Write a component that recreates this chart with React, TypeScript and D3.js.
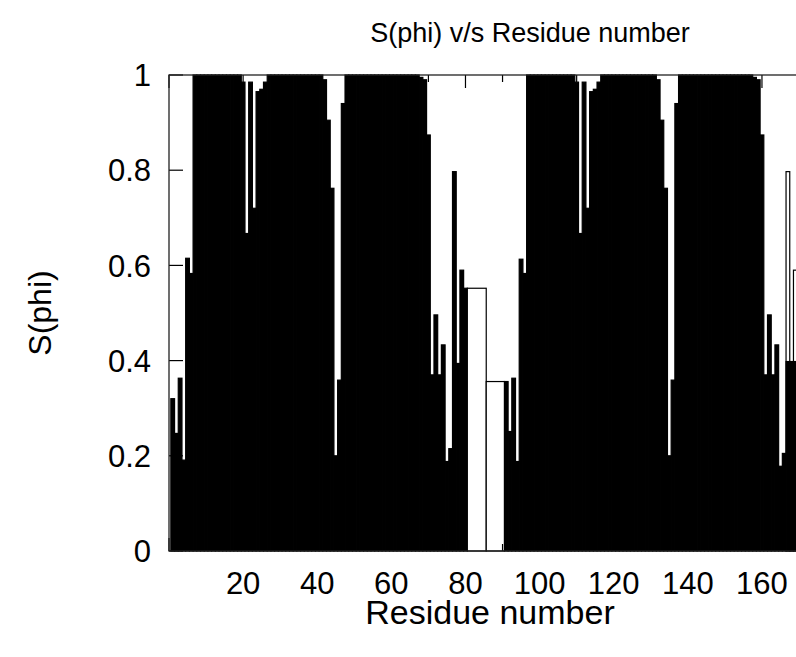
import React from "react";
import * as d3 from "d3";

// Chain A: residues 1..80
const chainAStart = 1;
const chainAValues = [
  0.32, 0.247, 0.363, 0.191, 0.615, 0.583,
  1, 1, 1, 1, 1, 1, 1, 1, 1, 1, 1, 1, 1,
  0.985, 0.667, 0.985, 0.72, 0.965, 0.97, 0.985,
  1, 1, 1, 1, 1, 1, 1, 1, 1, 1, 1, 1, 1, 1, 1,
  0.99, 0.905, 0.762, 0.2, 0.359, 0.94,
  1, 1, 1, 1, 1, 1, 1, 1, 1, 1, 1, 1, 1, 1, 1, 1, 1, 1, 1, 1,
  0.995, 0.99, 0.874, 0.37, 0.496, 0.37, 0.433, 0.188, 0.215, 0.797, 0.394, 0.59, 0.552,
];

// Chain B: residues 91..166
const chainBStart = 91;
const chainBValues = [
  0.356, 0.251, 0.363, 0.188, 0.613, 0.583,
  1, 1, 1, 1, 1, 1, 1, 1, 1, 1, 1, 1, 1,
  0.985, 0.667, 0.985, 0.72, 0.965, 0.97, 0.985,
  1, 1, 1, 1, 1, 1, 1, 1, 1, 1, 1, 1, 1, 1, 1,
  0.99, 0.905, 0.762, 0.2, 0.359, 0.94,
  1, 1, 1, 1, 1, 1, 1, 1, 1, 1, 1, 1, 1, 1, 1, 1, 1, 1, 1, 1,
  0.995, 0.99, 0.874, 0.37, 0.496, 0.37, 0.433, 0.178, 0.205,
];

// Last visible residues (drawn as open boxes above a filled base)
const endResidues = [167, 168, 169];
const endOpenValues = [0.797, 0.394, 0.59];
const endBaseValues = [0.398, 0.398, 0.398];

// Wide open boxes in the gap between chains
const gapStarts = [80.5, 85.6];
const gapEnds = [85.6, 90.5];
const gapValues = [0.552, 0.356];

const xMajorTicks = [20, 40, 60, 80, 100, 120, 140, 160];
const xAllMajor = [0, 20, 40, 60, 80, 100, 120, 140, 160, 180];
const xMinorTicks = [10, 30, 50, 70, 90, 110, 130, 150, 170];
const yTicks = [0, 0.2, 0.4, 0.6, 0.8, 1];
const yTickLabels = ["0", "0.2", "0.4", "0.6", "0.8", "1"];

const W = 796;
const H = 657;
const left = 169;
const top = 75;
const bottom = 551;
const xMax = 180;
const pxPerUnit = 3.706;
const right = left + pxPerUnit * xMax;

const FONT = "'Liberation Sans', Arial, Helvetica, sans-serif";

export default function App() {
  const x = d3.scaleLinear().domain([0, xMax]).range([left, right]);
  const y = d3.scaleLinear().domain([0, 1]).range([bottom, top]);

  const bars = [
    ...chainAValues.map((v, i) => ({ r: chainAStart + i, v })),
    ...chainBValues.map((v, i) => ({ r: chainBStart + i, v })),
  ];

  const sw = 1.2;

  return (
    <div style={{ position: "absolute", left: 0, top: 0 }}>
      <svg width={W} height={H} style={{ display: "block", background: "#fff" }}>
        <defs>
          <clipPath id="plotclip">
            <rect x={left} y={top - 2} width={right - left} height={bottom - top + 4} />
          </clipPath>
        </defs>
        <rect x={0} y={0} width={W} height={H} fill="#fff" />
        <g clipPath="url(#plotclip)">
          {bars.map((b) => (
            <rect
              key={"b" + b.r}
              x={x(b.r - 0.5)}
              y={y(b.v)}
              width={x(b.r + 0.5) - x(b.r - 0.5)}
              height={y(0) - y(b.v)}
              fill="#000"
              stroke="#000"
              strokeWidth={sw}
            />
          ))}
          {gapValues.map((v, i) => (
            <rect
              key={"g" + i}
              x={x(gapStarts[i])}
              y={y(v)}
              width={x(gapEnds[i]) - x(gapStarts[i])}
              height={y(0) - y(v)}
              fill="#fff"
              stroke="#000"
              strokeWidth={sw}
            />
          ))}
          {endResidues.map((r, i) => (
            <rect
              key={"eo" + r}
              x={x(r - 0.5)}
              y={y(endOpenValues[i])}
              width={x(r + 0.5) - x(r - 0.5)}
              height={y(0) - y(endOpenValues[i])}
              fill="#fff"
              stroke="#000"
              strokeWidth={sw}
            />
          ))}
          {endResidues.map((r, i) => (
            <rect
              key={"eb" + r}
              x={x(r - 0.5)}
              y={y(endBaseValues[i])}
              width={x(r + 0.5) - x(r - 0.5)}
              height={y(0) - y(endBaseValues[i])}
              fill="#000"
              stroke="#000"
              strokeWidth={sw}
            />
          ))}
        </g>

        {/* ticks */}
        <g stroke="#000" strokeWidth={1.2}>
          {xAllMajor.map((t) => (
            <g key={"xt" + t}>
              <line x1={x(t)} x2={x(t)} y1={bottom} y2={bottom - 13} />
              <line x1={x(t)} x2={x(t)} y1={top} y2={top + 13} />
            </g>
          ))}
          {xMinorTicks.map((t) => (
            <g key={"xm" + t}>
              <line x1={x(t)} x2={x(t)} y1={bottom} y2={bottom - 7} />
              <line x1={x(t)} x2={x(t)} y1={top} y2={top + 7} />
            </g>
          ))}
          {yTicks.map((t) => (
            <line key={"yt" + t} x1={left} x2={left + 14} y1={y(t)} y2={y(t)} />
          ))}
        </g>

        {/* border */}
        <rect
          x={left}
          y={top}
          width={right - left}
          height={bottom - top}
          fill="none"
          stroke="#222"
          strokeWidth={1.3}
        />

        {/* tick labels */}
        <g fontFamily={FONT} fontSize={31} fill="#000">
          {yTicks.map((t, i) => (
            <text key={"yl" + t} x={151} y={y(t)} dy="0.36em" textAnchor="end">
              {yTickLabels[i]}
            </text>
          ))}
          {xMajorTicks.map((t) => (
            <text key={"xl" + t} x={x(t)} y={594} textAnchor="middle">
              {t}
            </text>
          ))}
        </g>

        <text x={530} y={42} textAnchor="middle" fontFamily={FONT} fontSize={27} fill="#000">
          S(phi) v/s Residue number
        </text>
        <text x={490} y={624} textAnchor="middle" fontFamily={FONT} fontSize={34} fill="#000">
          Residue number
        </text>
        <text
          transform={`translate(51, ${(top + bottom) / 2}) rotate(-90)`}
          textAnchor="middle"
          fontFamily={FONT}
          fontSize={32}
          fill="#000"
        >
          S(phi)
        </text>
      </svg>
    </div>
  );
}
